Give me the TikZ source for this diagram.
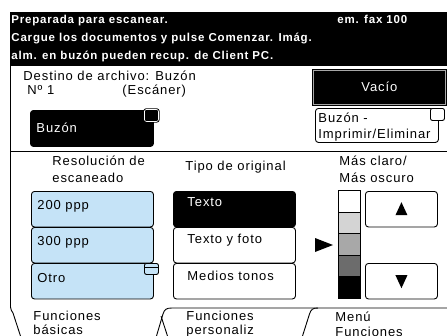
\documentclass[tikz,border=0pt]{standalone}
\usepackage{fontspec}
\setmainfont{Liberation Sans}[LetterSpace=7]
\definecolor{resblue}{HTML}{C5E3F7}
\definecolor{lvlb}{HTML}{D4D4D4}
\definecolor{lvlc}{HTML}{A8A8A8}
\definecolor{lvld}{HTML}{6C6C6C}
\begin{document}
\begin{tikzpicture}[x=1pt,y=-1pt,line width=0.9pt,
    txt/.style={anchor=base west,inner sep=0pt,font=\fontsize{13}{15}\selectfont},
    head/.style={txt,text=white,font=\fontsize{11.5}{13}\selectfont\bfseries},
    btn/.style={draw,rounded corners=3pt,anchor=north west,inner sep=0pt,minimum width=122pt,minimum height=35.5pt},
    tag/.style={draw,rounded corners=2pt,anchor=north west,inner sep=0pt,minimum width=14pt,minimum height=12pt}]
  \useasboundingbox (0,0) rectangle (447,335);
  \clip (0,0) rectangle (447,335);
  \def \Heads{
    h1/11/23.5/Preparada para escanear.,
    h2/11/41.5/Cargue los documentos y pulse Comenzar. Imág.,
    h3/11/59.5/alm. en buzón pueden recup. de Client PC.,
    fax/337/23.5/em. fax 100}
  \def \Labels{
    dest/23/80.5/Destino de archivo: Buzón,
    num/27/94/Nº 1,
    scan/122/94/(Escáner),
    res/52/165/Resolución de,
    resb/52/182/escaneado,
    orig/185/170/Tipo de original,
    darkb/339/182/Más oscuro,
    tabA/33/320/Funciones,
    tabAb/33/334.5/básicas,
    tabB/186/320/Funciones,
    tabBb/186/334.5/personaliz,
    tabC/335/321/Menú,
    tabCb/335/336.5/Funciones}
  \def \Res{
    1/191/200 ppp/209.5,
    2/227/300 ppp/245.5,
    3/263/Otro/282}
  \def \Types{
    1/191/Texto/206/black/white,
    2/227/Texto y foto/243/white/black,
    3/263/Medios tonos/280.5/white/black}
  % header band
  \fill (10,12) rectangle (447,66);
  \foreach \id / \x / \y / \t in \Heads{
    \node[head] (\id) at (\x, \y) {\t};
  }
  % frame, separator and tabs
  \draw (10.5,66) -- (10.5,307) .. controls (10.5,310) and (12,311) .. (13,313) -- (20.5,336);
  \draw (10.5,151) -- (447,151);
  \draw (156.5,336) -- (163,314) .. controls (164.5,309.5) and (166,308) .. (172,308) -- (447,308);
  \draw (161,316) -- (167.5,336);
  \draw (302.5,336) -- (309.5,314) .. controls (311,309.5) and (312.5,308) .. (318,308);
  \foreach \id / \x / \y / \t in \Labels{
    \node[txt] (\id) at (\x, \y) {\t};
  }
  \node[txt] (dark) at (339,165) {Más claro/};
  % destination buttons
  \node[draw,fill=black,double=gray!70,double distance=0.8pt,anchor=north west,inner sep=0pt,
    minimum width=132pt,minimum height=34pt] (empty) at (313,70) {};
  \node[txt,text=white,anchor=base] (emptyt) at (empty.center |- 0,91.5) {Vacío};
  \node[btn,fill=black,minimum width=123pt,minimum height=36pt] (box) at (30,110) {};
  \node[tag,fill=black,double=white,double distance=0.6pt] (boxtag) at (144,109) {};
  \node[txt,text=white] (boxt) at (36,132) {Buzón};
  \node[btn,fill=white,minimum width=123pt,minimum height=34pt] (print) at (315,108) {};
  \node[tag,fill=white] (printtag) at (430,108) {};
  \node[txt] (printa) at (318,122) {Buzón -};
  \node[txt] (printb) at (318,138) {Imprimir/Eliminar};
  % resolution and original type
  \foreach \id / \y / \t / \b in \Res{
    \node[btn,fill=resblue] (res\id) at (31, \y) {};
    \node[txt] (res\id t) at (37, \b) {\t};
  }
  \node[tag,fill=resblue,minimum height=11pt] (othertag) at (144,263) {};
  \draw ([yshift=1.5pt]othertag.west) -- ([yshift=1.5pt]othertag.east);
  \foreach \id / \y / \t / \b / \c / \d in \Types{
    \node[btn,fill=\c] (type\id) at (173, \y) {};
    \node[txt,text=\d] (type\id t) at (187, \b) {\t};
  }
  % density
  \foreach \i / \c in {0/white,1/lvlb,2/lvlc,3/lvld,4/black}{
    \node[draw,fill=\c,anchor=north west,inner sep=0pt,minimum width=22pt,minimum height=21.6pt] (lvl\i) at (338, 190+21.6*\i) {};
  }
  \fill (315,238) -- (333,245) -- (315,252) -- cycle;
  \node[btn,minimum width=72pt] (up) at (365,191) {};
  \node[btn,minimum width=72pt] (down) at (365,263) {};
  \fill (up.center) ++(0,-7) -- ++(6,13) -- ++(-12,0) -- cycle;
  \fill (down.center) ++(0,7) -- ++(6,-13) -- ++(-12,0) -- cycle;
\end{tikzpicture}
\end{document}
